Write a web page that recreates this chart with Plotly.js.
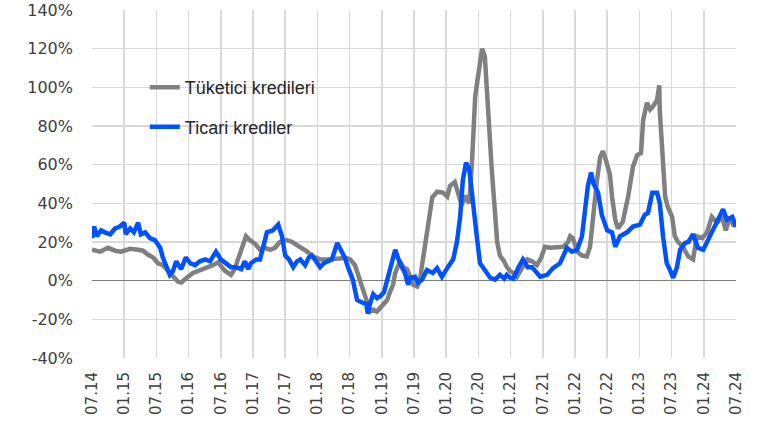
<!DOCTYPE html>
<html>
<head>
<meta charset="utf-8">
<script src="https://cdn.plot.ly/plotly-3.0.1.min.js"></script>
<style>html,body{margin:0;padding:0;background:#fff;}#chart{width:770px;height:427px;}</style>
</head>
<body>
<div id="chart"></div>
<script>
// x values: months since July 2014
const consumerMonths = [0,1.5,3,4.3,5.4,7.1,8.6,9.5,10.4,11.4,12.3,13.2,14.2,15.1,16,16.6,17.3,17.9,18.8,19.8,20.7,21.6,22.5,23.5,24.2,24.8,25.9,26.6,27.2,28,28.7,29.4,30.4,31.3,32.2,33.2,34.1,35,36.3,37.3,38.2,39.3,40.1,41.2,42.5,43.8,44.9,46.2,47.1,48.1,49,49.9,50.9,51.8,52.4,53.1,54.2,55,55.5,56.1,56.5,57,57.4,58,58.7,59.3,59.8,60.6,61.1,61.5,62.1,62.4,63,63.4,64.3,65.4,66.2,66.7,67.6,68.2,68.9,69.5,70.3,70.8,71.4,71.9,72.7,73.2,73.8,74.5,75.1,75.5,76,76.8,77.3,77.9,78.5,79.2,79.8,80.5,81.1,82,82.9,83.7,84.4,85.3,86.6,87.8,88.7,89.1,89.6,90.4,91.3,92.2,92.8,93.4,94.1,94.7,95.2,95.8,96.5,96.9,97.5,98,98.9,99.9,100.8,101.6,102.3,102.7,103.4,104,104.5,105.3,105.7,105.8,106.2,106.8,107.3,108.1,108.6,109.2,110.1,111.1,112,112.7,113.7,114.6,115.5,116.5,117.4,118.1,118.9,119.6,120];
const consumerValues = [16,15,17,15.5,15,16.5,16,15.5,13.5,12,9,8,5,2,-0.5,-1,1,2,4,5,5.5,7,8,9.5,7,5,3,6,11,17,23,21,19,16,17,16,17,20,21,20,18.5,17,15,12.5,11,11,11,11.5,12,11,8,1,-8,-16,-15,-16,-13,-10,-6,-2,4,8,10,7,6,2,-2,-3,0,8,18,26,35,43,46,45.5,43.5,49,51,45.5,39,44,40,61,95,105,120,116,87,57,35,20,13,10,7,5,4,2,5,8,11,10,8,12,17.5,17,17,17.5,20,23,22,15,13,12.5,17.5,35,52,64,67,62,55,43.5,31.5,27,30.5,43.5,59,65,66,83,92,88.5,90,93.5,101,88,66,43.5,38,33,23,20,17.5,12.5,11,23,22,25,33,30,33,26,33,28,30];

const commercialMonths = [0,0.4,0.9,1.7,2.4,3.4,4.3,5.2,6,6.3,7.1,7.8,8.6,9.1,9.9,10.8,11.7,12.7,13.2,13.8,14.5,15.1,15.7,16.6,17.5,18.3,19.2,20.1,21.1,22,23.1,24,25,25.9,26.8,27.8,28.5,29.1,29.6,30.6,31.3,32,32.6,33.7,34.7,35.4,36,36.7,37.5,38.2,38.8,39.7,40.4,41,41.7,42.5,43.2,43.8,44.7,45.7,46.6,47.1,47.7,48.6,49.4,49.9,50.5,51.1,51.4,51.8,52.4,53.1,53.7,54.4,55,55.7,56.5,57,57.4,58.3,58.9,59.3,60.2,60.7,61.5,62.4,63.5,64.3,65.2,66.3,67.3,68,68.6,69.1,69.7,70.3,71,71.7,72.3,73.2,74.2,75.1,76,76.8,77.3,77.9,78.5,79.4,80.3,81.2,82,82.9,83.5,84.8,85.9,87.2,88.5,89.4,90.4,91.3,91.9,92.4,93,93.4,94.3,95,96,96.9,97.5,98.4,99.7,100.8,102.1,103,103.6,104.4,105.3,105.8,106.4,107.1,107.7,108.3,109,109.6,110.5,111.1,112,112.9,113.9,115.2,116.5,117,117.6,118.3,119.3,120];
const commercialValues = [22,28,23,26,25,24,27,28,30,24,27,25,30,24,25,22,21,17,12,7,3,5,10,6,12,9,8,10,11,10,15,11,9,7,7,6,10,6,9,11,11,18,25,26,29,23,13,11,7,10,11,8,12,13,10,7,9,10,11,19.5,15,12,7,0.5,-10,-11,-11.5,-12,-17,-12,-7,-9,-8,-6,0,8,16,12,9,4,-2,1.5,2,-1,0.5,5.5,4,6.5,2,7,11,20,33,52,61,57.5,38,23,9,5.5,1.5,0.5,3,1,3,1.5,1,6.5,11,7,7,4,2,3,6.5,9,17,15,16,23,40,49,56,50.5,45.5,34,26,25,17.5,23,25,28,29,34,35,45.5,45.5,40,23,9,5.5,1.5,7,16,19.5,20,24,17,16,23,30,33,37,31.5,33,28];

const seriesNames = ['Tüketici kredileri', 'Ticari krediler'];
const tickMonths = [0,6,12,18,24,30,36,42,48,54,60,66,72,78,84,90,96,102,108,114,120];
const tickLabels = ['07.14','01.15','07.15','01.16','07.16','01.17','07.17','01.18','07.18','01.19','07.19','01.20','07.20','01.21','07.21','01.22','07.22','01.23','07.23','01.24','07.24'];
const yTickValues = [-40,-20,0,20,40,60,80,100,120,140];
const yTickLabels = ['-40%','-20%','0%','20%','40%','60%','80%','100%','120%','140%'];

const traces = [
  {x: consumerMonths, y: consumerValues, name: seriesNames[0], type: 'scatter', mode: 'lines',
   legendgroup: 'a', line: {color: '#808080', width: 4.5}},
  {x: commercialMonths, y: commercialValues, name: seriesNames[1], type: 'scatter', mode: 'lines',
   legendgroup: 'b', line: {color: '#0052FF', width: 4.5}}
];

const layout = {
  width: 770, height: 427,
  margin: {l: 92, r: 34, t: 10, b: 69},
  paper_bgcolor: '#ffffff', plot_bgcolor: '#ffffff',
  font: {family: 'DejaVu Sans, sans-serif', size: 15, color: '#404040'},
  showlegend: true,
  legend: {x: 0.082, y: 0.83, xanchor: 'left', yanchor: 'top', bgcolor: 'rgba(0,0,0,0)',
           traceorder: 'grouped', tracegroupgap: 13,
           font: {family: 'Liberation Sans, Arial, sans-serif', size: 18, color: '#262626'}},
  xaxis: {range: [0, 120], tickmode: 'array', tickvals: tickMonths, ticktext: tickLabels,
          tickangle: -90, showgrid: true, gridcolor: '#d9d9d9', gridwidth: 1.5,
          zeroline: false, showline: false, ticks: '', ticklabelstandoff: 10,
          tickfont: {size: 15, color: '#404040'}},
  yaxis: {range: [-40, 140], tickmode: 'array', tickvals: yTickValues, ticktext: yTickLabels,
          showgrid: true, gridcolor: '#d9d9d9', gridwidth: 1.5,
          zeroline: true, zerolinecolor: '#808080', zerolinewidth: 1.5,
          showline: false, ticks: '', ticklabelstandoff: 18,
          tickfont: {size: 16, color: '#404040'}}
};

Plotly.newPlot('chart', traces, layout, {displayModeBar: false, staticPlot: true});
</script>
</body>
</html>
